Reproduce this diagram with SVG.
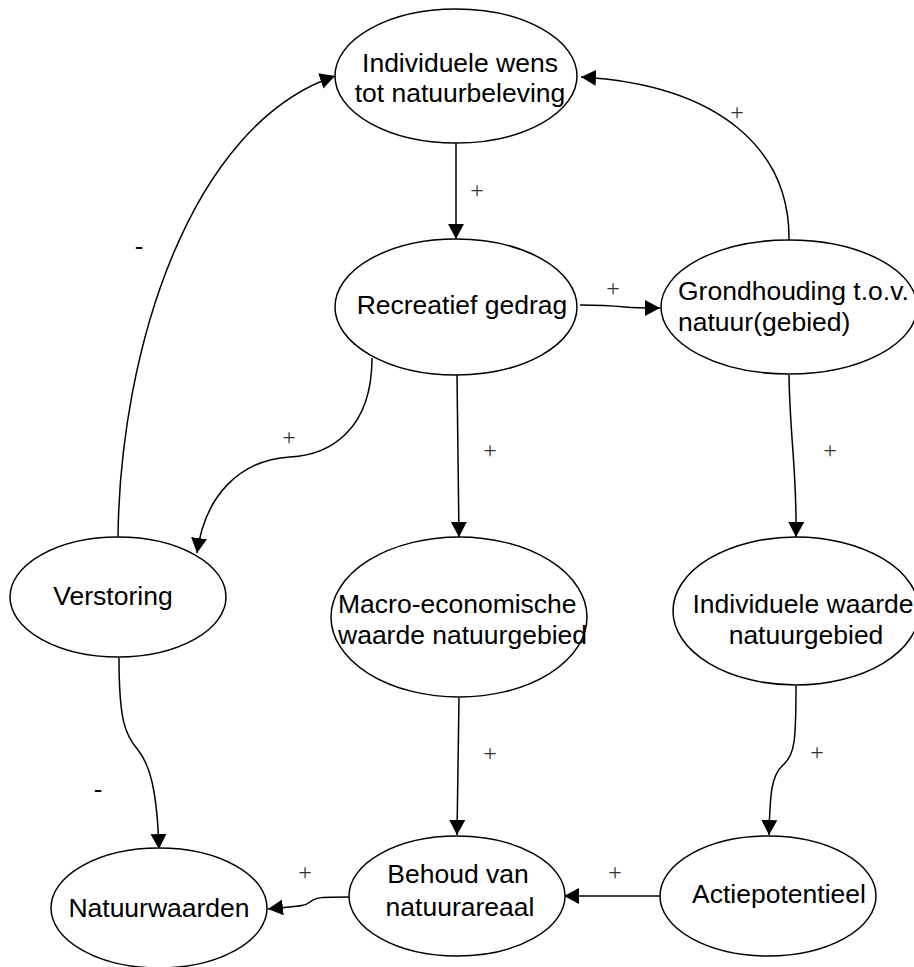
<svg xmlns="http://www.w3.org/2000/svg" width="914" height="967" viewBox="0 0 914 967">
<style>
.node ellipse{fill:#fff;stroke:#000;stroke-width:1.5}
.node text{font-family:"Liberation Sans",Arial,sans-serif;font-size:26.5px;fill:#000}
.mid{text-anchor:middle}
.edges path{fill:none;stroke:#000;stroke-width:1.5;marker-end:url(#arr)}
.lbl{font-family:"Liberation Serif","Times New Roman",serif;font-size:24px;fill:#333;text-anchor:middle}
.neg{font-family:"Liberation Sans",Arial,sans-serif;font-size:26px;fill:#000;text-anchor:middle}
</style>
<defs>
<marker id="arr" markerUnits="userSpaceOnUse" markerWidth="16" markerHeight="17" refX="15" refY="8" orient="auto">
<path d="M0,0 L15,8 L0,16 z" fill="#000"/>
</marker>
</defs>
<rect width="914" height="967" fill="#fff"/>
<g class="edges">
<path d="M456,143 L456,239"/>
<path d="M580,305 C600,305 615,306 625,307 C635,308 645,308 660,308"/>
<path d="M789,240 C790,150 720,85 581,77"/>
<path d="M118,537 C120,350 190,125 335,76"/>
<path d="M372,358 C372,430 330,455 290,457 C240,460 205,495 197,553"/>
<path d="M457,375 L459,537"/>
<path d="M789,375 C790,440 797,470 796,537"/>
<path d="M459,698 L457,835"/>
<path d="M796,686 C796,740 795,755 783,765 C772,775 770,790 769,835"/>
<path d="M119,658 C119,720 125,735 138,750 C150,765 157,790 159,849"/>
<path d="M661,896 L564,896"/>
<path d="M349,897 C322,897 316,897 310,902 C304,907 296,906 268,909"/>
</g>
<g id="labels">
<text class="lbl" x="477" y="198">+</text>
<text class="lbl" x="613" y="296">+</text>
<text class="lbl" x="737" y="120">+</text>
<text class="lbl" x="289" y="445">+</text>
<text class="lbl" x="490" y="458">+</text>
<text class="lbl" x="830" y="458">+</text>
<text class="lbl" x="490" y="761">+</text>
<text class="lbl" x="817" y="760">+</text>
<text class="lbl" x="615" y="880">+</text>
<text class="lbl" x="305" y="880">+</text>
<text class="neg" x="139" y="255">-</text>
<text class="neg" x="98" y="798">-</text>
</g>
<g id="n1" class="node">
<ellipse cx="456" cy="76" rx="121" ry="67"/>
<text class="mid" x="460" y="72">Individuele wens</text>
<text class="mid" x="460" y="102">tot natuurbeleving</text>
</g>
<g id="n2" class="node">
<ellipse cx="456" cy="307" rx="121" ry="68"/>
<text class="mid" x="462" y="314">Recreatief gedrag</text>
</g>
<g id="n3" class="node">
<ellipse cx="789" cy="307" rx="128" ry="67"/>
<text x="678" y="300">Grondhouding t.o.v.</text>
<text x="678" y="331">natuur(gebied)</text>
</g>
<g id="n4" class="node">
<ellipse cx="118" cy="597" rx="108" ry="60"/>
<text class="mid" x="113" y="605">Verstoring</text>
</g>
<g id="n5" class="node">
<ellipse cx="459" cy="617" rx="128" ry="80"/>
<text x="338" y="613">Macro-economische</text>
<text x="338" y="644">waarde natuurgebied</text>
</g>
<g id="n6" class="node">
<ellipse cx="796" cy="611" rx="123" ry="74"/>
<text class="mid" x="803" y="613">Individuele waarde</text>
<text class="mid" x="806" y="644">natuurgebied</text>
</g>
<g id="n7" class="node">
<ellipse cx="159" cy="908" rx="108" ry="60"/>
<text class="mid" x="159" y="917">Natuurwaarden</text>
</g>
<g id="n8" class="node">
<ellipse cx="457" cy="896" rx="108" ry="60"/>
<text class="mid" x="458" y="883">Behoud van</text>
<text class="mid" x="460" y="916">natuurareaal</text>
</g>
<g id="n9" class="node">
<ellipse cx="768" cy="896" rx="108" ry="60"/>
<text class="mid" x="779" y="903">Actiepotentieel</text>
</g>
</svg>
